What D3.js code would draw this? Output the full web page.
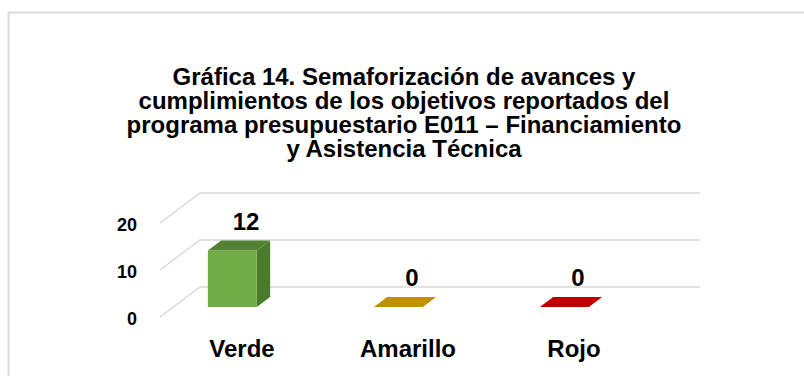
<!DOCTYPE html>
<html>
<head>
<meta charset="utf-8">
<script src="https://cdn.jsdelivr.net/npm/d3@7"></script>
<style>
  html, body { margin: 0; padding: 0; background: #fff; }
  svg { display: block; }
</style>
</head>
<body>
<svg id="chart" width="804" height="376"></svg>
<script>
// Data
const categories = ["Verde", "Amarillo", "Rojo"];
const values = [12, 0, 0];
const yTicks = [0, 10, 20];
const titleLines = [
  "Gráfica 14. Semaforización de avances y",
  "cumplimientos de los objetivos reportados del",
  "programa presupuestario E011 – Financiamiento",
  "y Asistencia Técnica"
];

// Face colours per category: front, top, side
const palette = {
  Verde:    { front: "#70ad47", top: "#548235", side: "#4b7a2d" },
  Amarillo: { front: "#bf9000", top: "#bf9000", side: "#a67d00" },
  Rojo:     { front: "#c00000", top: "#c00000", side: "#a00000" }
};

const svg = d3.select("#chart");

// Outer chart frame
svg.append("rect")
  .attr("x", 8.5).attr("y", 12.5)
  .attr("width", 830).attr("height", 420)
  .attr("fill", "#fff")
  .attr("stroke", "#d9d9d9").attr("stroke-width", 2);

// Title
const title = svg.append("text")
  .attr("text-anchor", "middle")
  .attr("font-family", "Liberation Sans, Arial, sans-serif")
  .attr("font-weight", "bold")
  .attr("font-size", 24)
  .attr("fill", "#000");
titleLines.forEach((t, i) => {
  title.append("tspan").attr("x", 404).attr("y", 85 + i * 24).text(t);
});

// Oblique 3D projection: floor depth offset
const depthDX = 40, depthDY = -30;
const floorLeft = 160, floorRight = 660;

// Value scale on the back wall
const y = d3.scaleLinear().domain([0, 20]).range([287, 193]);
// Category scale at the front edge of the floor
const x = d3.scaleBand().domain(categories).range([136, 634]).paddingInner(0);
const barW = x.bandwidth() * 0.295;

// projection from (px at front, value, depth 0..1) to screen
function proj(px, v, d) {
  return [px + depthDX * d, y(v) - depthDY * (1 - d)];
}

// Gridlines: side-wall diagonal then back-wall horizontal
const grid = svg.append("g");
yTicks.forEach(t => {
  const a = proj(floorLeft, t, 0), b = proj(floorLeft, t, 1), c = proj(floorRight, t, 1);
  grid.append("path")
    .attr("d", d3.line()([a, b, c]))
    .attr("fill", "none")
    .attr("stroke", "#d9d9d9")
    .attr("stroke-width", 1.5);
});

// Y tick labels
svg.append("g").selectAll("text").data(yTicks).join("text")
  .attr("x", 137)
  .attr("y", d => proj(floorLeft, d, 0)[1] + 8)
  .attr("text-anchor", "end")
  .attr("font-family", "Liberation Sans, Arial, sans-serif")
  .attr("font-weight", "bold")
  .attr("font-size", 18)
  .attr("fill", "#000")
  .text(d => d);

// Bars: occupy the middle third of the floor depth
const d0 = 1 / 3, d1 = 2 / 3;
const bars = svg.append("g");
categories.forEach((c, i) => {
  const v = values[i];
  const cx = x(c) + x.bandwidth() / 2;
  const l = cx - barW / 2, r = cx + barW / 2;
  const col = palette[c];
  const poly = pts => pts.map(p => p.join(",")).join(" ");
  if (v > 0) {
    // side face
    bars.append("polygon")
      .attr("points", poly([proj(r, 0, d0), proj(r, 0, d1), proj(r, v, d1), proj(r, v, d0)]))
      .attr("fill", col.side);
    // front face
    bars.append("polygon")
      .attr("points", poly([proj(l, 0, d0), proj(r, 0, d0), proj(r, v, d0), proj(l, v, d0)]))
      .attr("fill", col.front);
  }
  // top face
  bars.append("polygon")
    .attr("points", poly([proj(l, v, d0), proj(r, v, d0), proj(r, v, d1), proj(l, v, d1)]))
    .attr("fill", col.top);

  // value label
  const top = proj(cx, v, d1);
  svg.append("text")
    .attr("x", cx + 27)
    .attr("y", top[1] - 11)
    .attr("text-anchor", "middle")
    .attr("font-family", "Liberation Sans, Arial, sans-serif")
    .attr("font-weight", "bold")
    .attr("font-size", 24)
    .attr("fill", "#000")
    .text(v);

  // category label
  svg.append("text")
    .attr("x", cx + 23)
    .attr("y", 357)
    .attr("text-anchor", "middle")
    .attr("font-family", "Liberation Sans, Arial, sans-serif")
    .attr("font-weight", "bold")
    .attr("font-size", 24)
    .attr("fill", "#000")
    .text(c);
});
</script>
</body>
</html>
